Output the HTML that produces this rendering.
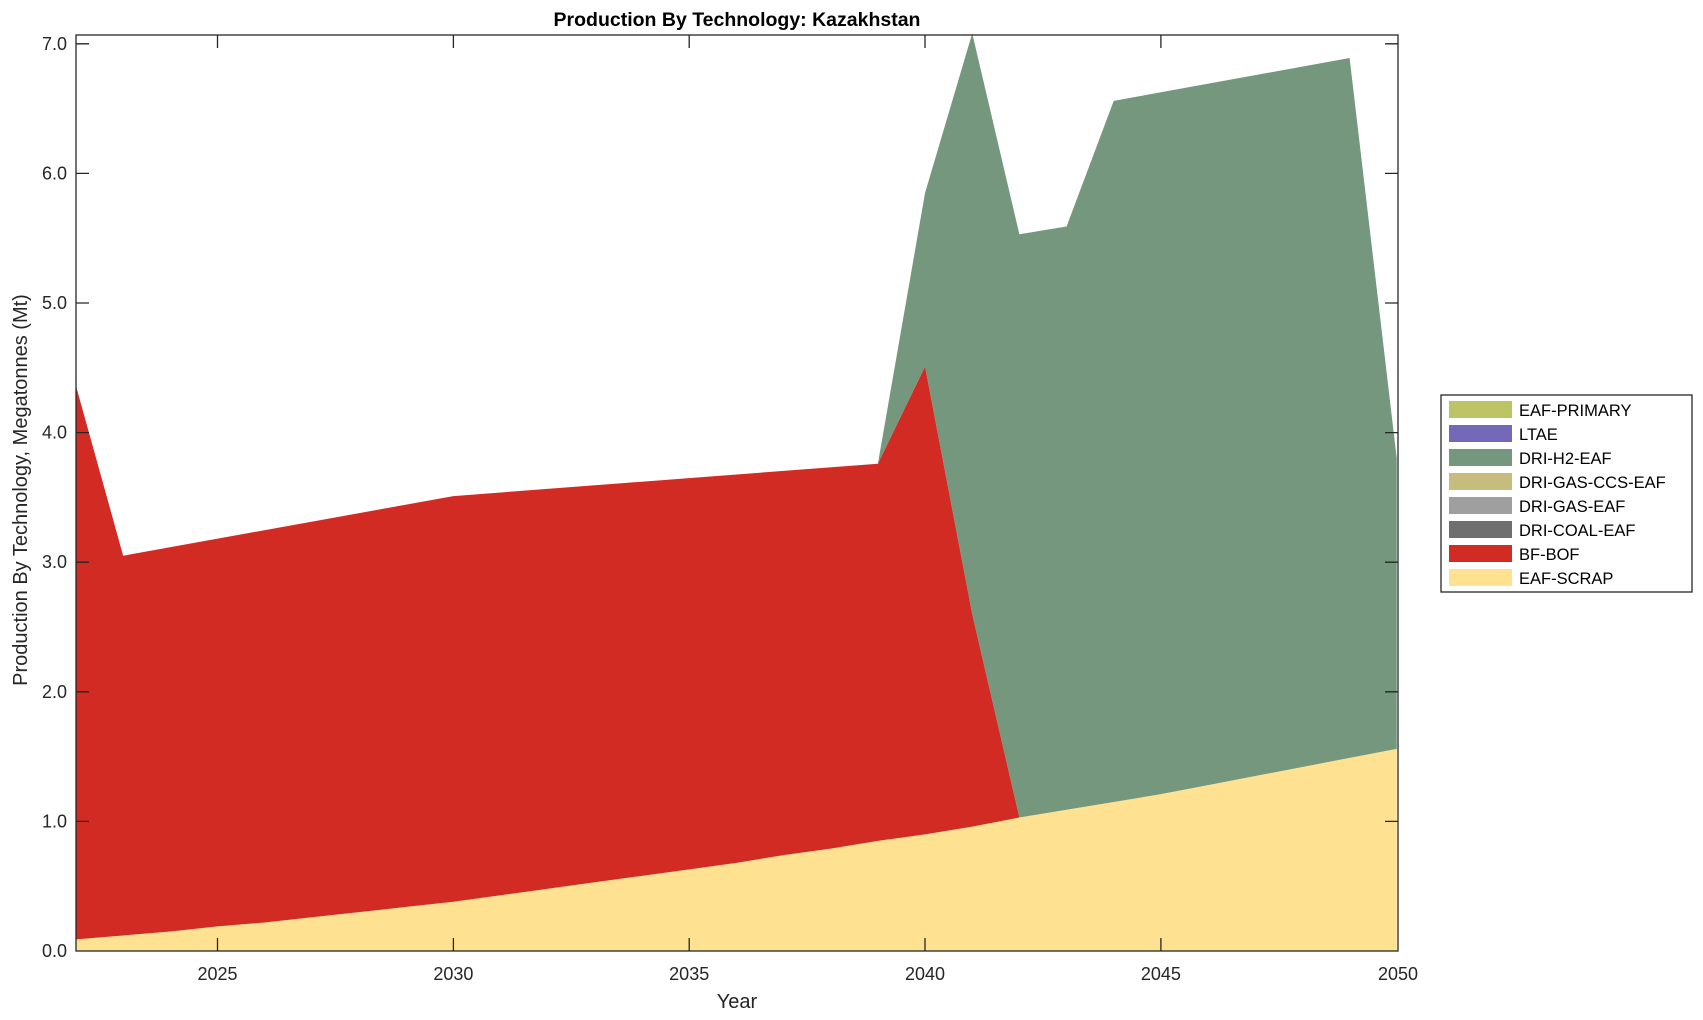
<!DOCTYPE html>
<html><head><meta charset="utf-8"><style>
html,body{margin:0;padding:0;background:#fff;}
svg{display:block;font-family:"Liberation Sans",Arial,sans-serif;}
</style></head><body>
<svg width="1703" height="1020" viewBox="0 0 1703 1020" xmlns="http://www.w3.org/2000/svg">
<rect width="1703" height="1020" fill="#fff"/>
<g transform="translate(76,951) scale(47.17,-129.6)">
<polygon fill="#fee291" points="0,0 0,0.09 1,0.12 2,0.15 3,0.19 4,0.22 5,0.26 6,0.30 7,0.34 8,0.38 9,0.43 10,0.48 11,0.53 12,0.58 13,0.63 14,0.68 15,0.74 16,0.79 17,0.85 18,0.90 19,0.96 20,1.03 21,1.09 22,1.15 23,1.21 24,1.28 25,1.35 26,1.42 27,1.49 28,1.56 28,0"/>
<polygon fill="#d22b24" points="0,4.36 1,3.05 8,3.51 17,3.76 18,4.51 19,2.6 20,1.03 19,0.96 18,0.90 17,0.85 16,0.79 15,0.74 14,0.68 13,0.63 12,0.58 11,0.53 10,0.48 9,0.43 8,0.38 7,0.34 6,0.30 5,0.26 4,0.22 3,0.19 2,0.15 1,0.12 0,0.09"/>
<polygon fill="#75977d" points="17,3.76 18,5.85 19,7.08 20,5.53 21,5.59 22,6.56 27,6.89 28,3.8 28,1.56 27,1.49 26,1.42 25,1.35 24,1.28 23,1.21 22,1.15 21,1.09 20,1.03 19,2.6 18,4.51"/>
</g>
<g stroke="#262626" stroke-width="1.3" fill="none">
<rect x="76" y="35" width="1322" height="916"/>
<path d="M217.5,951v-13M217.5,35v13M453.4,951v-13M453.4,35v13M689.2,951v-13M689.2,35v13M925,951v-13M925,35v13M1160.9,951v-13M1160.9,35v13"/>
<path d="M76,821.4h13M1398,821.4h-13M76,691.8h13M1398,691.8h-13M76,562.2h13M1398,562.2h-13M76,432.6h13M1398,432.6h-13M76,303h13M1398,303h-13M76,173.4h13M1398,173.4h-13M76,43.8h13M1398,43.8h-13"/>
</g>
<g font-size="18" fill="#262626" text-anchor="middle">
<text x="217.5" y="980">2025</text><text x="453.4" y="980">2030</text><text x="689.2" y="980">2035</text><text x="925" y="980">2040</text><text x="1160.9" y="980">2045</text><text x="1398" y="980">2050</text>
</g>
<g font-size="18" fill="#262626" text-anchor="end">
<text x="67" y="957">0.0</text><text x="67" y="827.4">1.0</text><text x="67" y="697.8">2.0</text><text x="67" y="568.2">3.0</text><text x="67" y="438.6">4.0</text><text x="67" y="309">5.0</text><text x="67" y="179.4">6.0</text><text x="67" y="49.8">7.0</text>
</g>
<text x="737" y="1008" font-size="20" fill="#262626" text-anchor="middle">Year</text>
<text transform="translate(27,490) rotate(-90)" font-size="20" fill="#262626" text-anchor="middle">Production By Technology, Megatonnes (Mt)</text>
<text x="737" y="26" font-size="19.5" font-weight="bold" fill="#000" text-anchor="middle">Production By Technology: Kazakhstan</text>
<rect x="1441" y="395" width="251" height="197" fill="#fff" stroke="#262626" stroke-width="1.3"/>
<g font-size="16.5" fill="#000">
<rect x="1449" y="401" width="63" height="17" fill="#bcc466"/><text x="1519" y="416">EAF-PRIMARY</text>
<rect x="1449" y="425" width="63" height="17" fill="#7468b8"/><text x="1519" y="440">LTAE</text>
<rect x="1449" y="449" width="63" height="17" fill="#75977d"/><text x="1519" y="464">DRI-H2-EAF</text>
<rect x="1449" y="473" width="63" height="17" fill="#c5bc7e"/><text x="1519" y="488">DRI-GAS-CCS-EAF</text>
<rect x="1449" y="497" width="63" height="17" fill="#9f9f9f"/><text x="1519" y="512">DRI-GAS-EAF</text>
<rect x="1449" y="521" width="63" height="17" fill="#6f6f6f"/><text x="1519" y="536">DRI-COAL-EAF</text>
<rect x="1449" y="545" width="63" height="17" fill="#d22b24"/><text x="1519" y="560">BF-BOF</text>
<rect x="1449" y="569" width="63" height="17" fill="#fee291"/><text x="1519" y="584">EAF-SCRAP</text>
</g>
</svg>
</body></html>
